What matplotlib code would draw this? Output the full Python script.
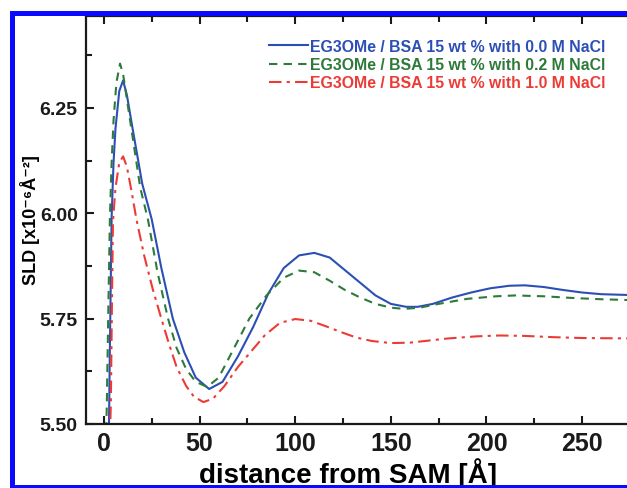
import matplotlib
matplotlib.use("Agg")
import matplotlib.pyplot as plt
from matplotlib.patches import Rectangle
from matplotlib.ticker import MultipleLocator

plt.rcParams["font.family"] = ["Liberation Sans", "DejaVu Sans"]

# SLD profiles (distance in Å, SLD in 1e-6 Å^-2)
x_00 = [2.5, 3.0, 4.0, 5.0, 6.0, 8.0, 10.0, 12.0, 15.0, 20.0, 25.0, 30.0,
        36.0, 42.0, 48.0, 55.0, 62.0, 70.0, 78.0, 86.0, 94.0, 102.0, 110.0,
        118.0, 126.0, 134.0, 142.0, 150.0, 158.0, 164.0, 172.0, 182.0,
        192.0, 202.0, 212.0, 220.0, 230.0, 240.0, 250.0, 260.0, 275.0]
sld_00 = [5.45, 5.65, 5.99, 6.12, 6.20, 6.29, 6.315, 6.28, 6.20, 6.07, 5.985,
          5.87, 5.75, 5.67, 5.61, 5.583, 5.60, 5.66, 5.73, 5.81, 5.87, 5.90,
          5.906, 5.895, 5.865, 5.835, 5.805, 5.785, 5.778, 5.778, 5.785,
          5.80, 5.812, 5.822, 5.828, 5.829, 5.825, 5.818, 5.812, 5.808, 5.806]

x_02 = [1.0, 1.5, 2.2, 3.1, 4.0, 5.0, 6.5, 8.4, 10.0, 12.0, 15.0, 19.0, 23.0,
        28.0, 33.5, 38.0, 43.0, 48.0, 54.0, 60.0, 68.0, 76.0, 85.0, 94.0,
        102.0, 110.0, 118.0, 126.0, 134.0, 142.0, 150.0, 157.0, 165.0,
        175.0, 190.0, 205.0, 215.0, 230.0, 245.0, 260.0, 275.0]
sld_02 = [5.45, 5.55, 5.75, 5.99, 6.12, 6.22, 6.31, 6.355, 6.33, 6.27, 6.18,
          6.06, 5.985, 5.86, 5.75, 5.68, 5.63, 5.60, 5.588, 5.61, 5.68, 5.75,
          5.805, 5.847, 5.864, 5.86, 5.84, 5.818, 5.80, 5.785, 5.776, 5.773,
          5.776, 5.785, 5.797, 5.803, 5.805, 5.803, 5.799, 5.796, 5.794]

x_10 = [3.0, 3.6, 4.2, 4.7, 6.0, 8.0, 10.0, 12.0, 14.5, 17.0, 21.0, 25.5,
        30.0, 34.0, 38.0, 43.0, 47.0, 52.0, 57.0, 63.0, 70.0, 76.0, 84.0,
        92.0, 100.0, 108.0, 116.0, 124.0, 132.0, 140.0, 150.0, 160.0, 170.0,
        180.0, 195.0, 207.0, 220.0, 235.0, 250.0, 275.0]
sld_10 = [5.45, 5.55, 5.80, 5.98, 6.06, 6.12, 6.135, 6.11, 6.05, 5.985, 5.90,
          5.82, 5.75, 5.69, 5.635, 5.59, 5.565, 5.552, 5.56, 5.59, 5.635,
          5.667, 5.71, 5.74, 5.749, 5.745, 5.732, 5.718, 5.705, 5.697, 5.692,
          5.693, 5.698, 5.703, 5.708, 5.71, 5.709, 5.706, 5.704, 5.703]

labels = ["EG3OMe / BSA 15 wt % with 0.0 M NaCl",
          "EG3OMe / BSA 15 wt % with 0.2 M NaCl",
          "EG3OMe / BSA 15 wt % with 1.0 M NaCl"]

W, H = 627, 489
fig = plt.figure(figsize=(W / 100, H / 100), dpi=100)
ax = fig.add_axes([86 / W, (H - 425) / H, (W - 86) / W, (425 - 17) / H])

blue, green, red = "#2c4fb6", "#2e7a3a", "#ec3b35"
ax.plot(x_00, sld_00, color=blue, lw=1.5, ls="-", label=labels[0])
ax.plot(x_02, sld_02, color=green, lw=1.5, ls=(0, (4, 3)), label=labels[1])
ax.plot(x_10, sld_10, color=red, lw=1.5, ls=(0, (6, 2.5, 1.5, 2.5)),
        label=labels[2])

ax.set_xlim(-9.4, 273.5)
ax.set_ylim(5.5, 6.468)
ax.xaxis.set_major_locator(MultipleLocator(50))
ax.xaxis.set_minor_locator(MultipleLocator(25))
ax.yaxis.set_major_locator(MultipleLocator(0.25))
ax.yaxis.set_minor_locator(MultipleLocator(0.125))
ax.tick_params(which="both", direction="in", top=True, right=False,
               width=1.5, colors="#1a1a1a")
ax.tick_params(which="major", length=6)
ax.tick_params(which="minor", length=4)
ax.tick_params(axis="x", which="major", labelsize=18, pad=5)
ax.tick_params(axis="y", which="major", labelsize=14, pad=6)
ax.yaxis.set_major_formatter(plt.FuncFormatter(lambda v, p: f"{v:.2f}"))
for t in ax.get_xticklabels() + ax.get_yticklabels():
    t.set_fontweight("bold")
ax.spines["right"].set_visible(False)
for s in ("left", "bottom", "top"):
    ax.spines[s].set_linewidth(1.6)
    ax.spines[s].set_color("#1a1a1a")

leg = ax.legend(loc="upper right", bbox_to_anchor=(606 / W, (H - 40) / H),
                bbox_transform=fig.transFigure, frameon=False,
                labelcolor="linecolor", handlelength=2.5, handletextpad=0.15,
                labelspacing=0.2, borderpad=0, borderaxespad=0,
                prop={"weight": "bold", "size": 11.4})

fig.text(30 / W, (H - 220) / H, "SLD [x10⁻⁶Å⁻²]", rotation=90, ha="center",
         va="center", fontsize=13, fontweight="bold")
fig.text(348 / W, (H - 483) / H, "distance from SAM [Å]", ha="center",
         va="baseline", fontsize=20, fontweight="bold")

# blue frame around the figure (top, left, bottom edges)
frame = dict(color="#0a0aff", lw=0, transform=fig.transFigure, zorder=20)
fig.add_artist(Rectangle((10 / W, (H - 17) / H), (W - 10) / W, 5 / H, **frame))
fig.add_artist(Rectangle((10 / W, 0), 5 / W, (H - 12) / H, **frame))
fig.add_artist(Rectangle((10 / W, 0), (W - 10) / W, 3 / H, **frame))

fig.savefig("out.png", dpi=100)
